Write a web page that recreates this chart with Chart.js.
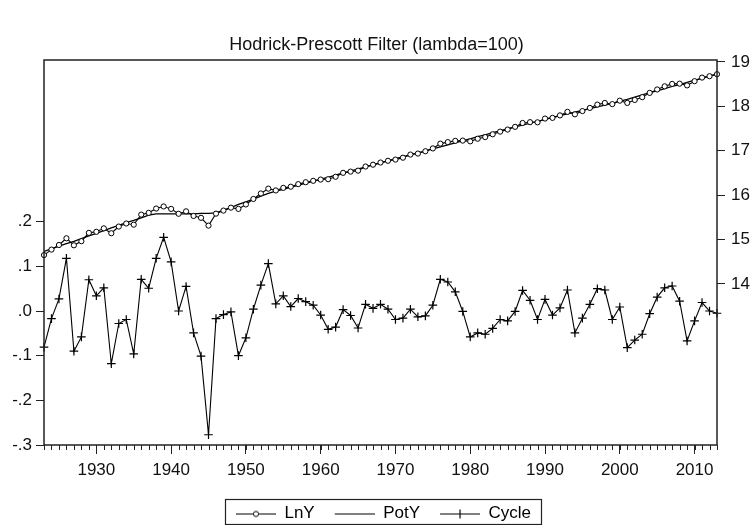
<!DOCTYPE html>
<html>
<head>
<meta charset="utf-8">
<title>Hodrick-Prescott Filter</title>
<script src="https://cdn.jsdelivr.net/npm/chart.js@4.4.1/dist/chart.umd.min.js"></script>
<style>
  html, body { margin: 0; padding: 0; background: #fff; }
  #chart { display: block; }
</style>
</head>
<body>
<canvas id="chart" width="753" height="525"></canvas>
<script>
// years on the x axis
const years = [1923, 1924, 1925, 1926, 1927, 1928, 1929, 1930, 1931, 1932,
  1933, 1934, 1935, 1936, 1937, 1938, 1939, 1940, 1941, 1942,
  1943, 1944, 1945, 1946, 1947, 1948, 1949, 1950, 1951, 1952,
  1953, 1954, 1955, 1956, 1957, 1958, 1959, 1960, 1961, 1962,
  1963, 1964, 1965, 1966, 1967, 1968, 1969, 1970, 1971, 1972,
  1973, 1974, 1975, 1976, 1977, 1978, 1979, 1980, 1981, 1982,
  1983, 1984, 1985, 1986, 1987, 1988, 1989, 1990, 1991, 1992,
  1993, 1994, 1995, 1996, 1997, 1998, 1999, 2000, 2001, 2002,
  2003, 2004, 2005, 2006, 2007, 2008, 2009, 2010, 2011, 2012, 2013];

// right axis series
const lnY = [14.649, 14.773, 14.877, 15.028, 14.870, 14.962, 15.150, 15.174, 15.252, 15.142,
  15.292, 15.361, 15.334, 15.561, 15.601, 15.698, 15.745, 15.690, 15.580, 15.635,
  15.531, 15.489, 15.313, 15.583, 15.652, 15.718, 15.690, 15.790, 15.914, 16.038,
  16.146, 16.106, 16.164, 16.190, 16.248, 16.291, 16.323, 16.351, 16.359, 16.414,
  16.503, 16.530, 16.552, 16.645, 16.686, 16.735, 16.774, 16.801, 16.844, 16.914,
  16.937, 16.989, 17.053, 17.161, 17.195, 17.223, 17.229, 17.212, 17.271, 17.308,
  17.371, 17.431, 17.478, 17.539, 17.626, 17.644, 17.641, 17.726, 17.741, 17.797,
  17.877, 17.821, 17.894, 17.965, 18.040, 18.077, 18.051, 18.129, 18.078, 18.145,
  18.208, 18.304, 18.381, 18.452, 18.506, 18.512, 18.473, 18.568, 18.649, 18.680, 18.725];

const potY = [14.73, 14.79, 14.85, 14.91, 14.96, 15.02, 15.08, 15.14, 15.20, 15.26,
  15.32, 15.38, 15.43, 15.49, 15.55, 15.58, 15.58, 15.58, 15.58, 15.58,
  15.58, 15.59, 15.59, 15.60, 15.66, 15.72, 15.79, 15.85, 15.91, 15.98,
  16.04, 16.09, 16.13, 16.18, 16.22, 16.27, 16.31, 16.36, 16.40, 16.45,
  16.50, 16.54, 16.59, 16.63, 16.68, 16.72, 16.77, 16.82, 16.86, 16.91,
  16.95, 17.00, 17.04, 17.09, 17.13, 17.18, 17.23, 17.27, 17.32, 17.36,
  17.41, 17.45, 17.50, 17.54, 17.58, 17.62, 17.66, 17.70, 17.75, 17.79,
  17.83, 17.87, 17.91, 17.95, 17.99, 18.03, 18.07, 18.12, 18.16, 18.21,
  18.26, 18.31, 18.35, 18.40, 18.45, 18.49, 18.54, 18.59, 18.63, 18.68, 18.73];

// left axis series
const cycle = [-0.081, -0.017, 0.027, 0.118, -0.090, -0.058, 0.070, 0.034, 0.052, -0.118,
  -0.028, -0.019, -0.096, 0.071, 0.051, 0.118, 0.165, 0.110, 0.000, 0.055,
  -0.049, -0.101, -0.277, -0.017, -0.008, -0.002, -0.100, -0.060, 0.004, 0.058,
  0.106, 0.016, 0.034, 0.010, 0.028, 0.021, 0.013, -0.009, -0.041, -0.036,
  0.003, -0.010, -0.038, 0.015, 0.006, 0.015, 0.004, -0.019, -0.016, 0.004,
  -0.013, -0.011, 0.013, 0.071, 0.065, 0.043, -0.001, -0.058, -0.049, -0.052,
  -0.039, -0.019, -0.022, -0.001, 0.046, 0.024, -0.019, 0.026, -0.009, 0.007,
  0.047, -0.049, -0.016, 0.015, 0.050, 0.047, -0.019, 0.009, -0.082, -0.065,
  -0.052, -0.006, 0.031, 0.052, 0.056, 0.022, -0.067, -0.022, 0.019, 0.000, -0.005];

// tick labels
const yearTicks = [1930, 1940, 1950, 1960, 1970, 1980, 1990, 2000, 2010];
const cycleTicks = [-0.3, -0.2, -0.1, 0, 0.1, 0.2];
const levelTicks = [14, 15, 16, 17, 18, 19];

const FONT = '"Liberation Sans", Arial, sans-serif';
Chart.defaults.font.family = FONT;
Chart.defaults.color = '#111';

function pairs(vals) {
  return years.map((y, i) => ({ x: y, y: vals[i] }));
}

function fmtCycle(v) {
  const n = Math.round(Math.abs(v) * 10);
  return (v < -0.0001 ? '-' : '') + '.' + n;
}

// legend symbols: a short line with the series marker
function legendSymbol(kind) {
  const c = document.createElement('canvas');
  c.width = 54; c.height = 12;
  const g = c.getContext('2d');
  g.strokeStyle = '#000';
  g.lineWidth = 1.2;
  g.beginPath(); g.moveTo(14, 6.5); g.lineTo(54, 6.5); g.stroke();
  if (kind === 'circle') {
    g.fillStyle = '#fff';
    g.lineWidth = 1;
    g.beginPath(); g.arc(34, 6.5, 2.6, 0, Math.PI * 2); g.fill(); g.stroke();
  } else if (kind === 'cross') {
    g.beginPath(); g.moveTo(34, 2); g.lineTo(34, 11); g.stroke();
  }
  return c;
}
const symbols = [legendSymbol('circle'), legendSymbol('none'), legendSymbol('cross')];

const framePlugin = {
  id: 'frame',
  afterDraw(chart) {
    const { ctx, chartArea: a, scales } = chart;
    ctx.save();
    ctx.strokeStyle = '#222';
    ctx.lineWidth = 1.5;
    ctx.strokeRect(a.left, a.top, a.right - a.left, a.bottom - a.top);
    // yearly minor ticks
    ctx.lineWidth = 1;
    ctx.beginPath();
    years.forEach(y => {
      const x = Math.round(scales.x.getPixelForValue(y)) + 0.5;
      ctx.moveTo(x, a.bottom);
      ctx.lineTo(x, a.bottom + 5);
    });
    ctx.stroke();
    // box around the legend
    const hb = chart.legend.legendHitBoxes;
    if (hb && hb.length) {
      const l = Math.round(hb[0].left + 3) + 0.5;
      const last = hb[hb.length - 1];
      const r = Math.round(last.left + last.width + 10) + 0.5;
      const t = Math.round(chart.legend.top) + 0.5;
      ctx.lineWidth = 1.2;
      ctx.strokeRect(l, t, r - l, chart.height - 0.5 - t);
    }
    ctx.restore();
  }
};

new Chart(document.getElementById('chart'), {
  type: 'line',
  data: {
    datasets: [
      {
        label: 'LnY', data: pairs(lnY), yAxisID: 'yR', order: 0,
        borderColor: '#000', borderWidth: 1.1, tension: 0,
        pointStyle: 'circle', pointRadius: 2.6, pointBorderWidth: 1,
        pointBackgroundColor: '#fff', pointBorderColor: '#000', clip: 6
      },
      {
        label: 'PotY', data: pairs(potY), yAxisID: 'yR', order: 1,
        borderColor: '#000', borderWidth: 1.3, tension: 0, pointRadius: 0
      },
      {
        label: 'Cycle', data: pairs(cycle), yAxisID: 'yL', order: 2,
        borderColor: '#000', borderWidth: 1.1, tension: 0,
        pointStyle: 'cross', pointRadius: 4.3, pointBorderWidth: 1.2,
        pointBorderColor: '#000', clip: 6
      }
    ]
  },
  options: {
    responsive: false,
    animation: false,
    layout: { padding: { left: 0, right: 0, top: 0, bottom: -7 } },
    plugins: {
      title: {
        display: true,
        text: 'Hodrick-Prescott Filter (lambda=100)',
        color: '#111',
        font: { size: 18, weight: 'normal' },
        padding: { top: 34.2, bottom: 4.2 }
      },
      legend: {
        position: 'bottom',
        labels: {
          usePointStyle: true,
          pointStyleWidth: 54,
          padding: 6,
          color: '#111',
          font: { size: 17 },
          generateLabels: chart => chart.data.datasets.map((ds, i) => ({
            text: ds.label, pointStyle: symbols[i], fillStyle: '#fff',
            strokeStyle: '#000', lineWidth: 1, hidden: false, datasetIndex: i
          }))
        }
      },
      tooltip: { enabled: false }
    },
    scales: {
      x: {
        type: 'linear', position: 'bottom', min: 1923, max: 2013,
        afterBuildTicks: s => { s.ticks = yearTicks.map(v => ({ value: v })); },
        afterFit: s => { s.height = 54; },
        ticks: { callback: v => String(v), font: { size: 17 }, padding: 6, maxRotation: 0, autoSkip: false, color: '#111' },
        grid: { drawOnChartArea: false, tickLength: 9, tickColor: '#222', tickWidth: 1 },
        border: { display: false }
      },
      yL: {
        type: 'linear', position: 'left', min: -0.3, max: 0.562,
        afterBuildTicks: s => { s.ticks = cycleTicks.map(v => ({ value: v })); },
        afterFit: s => { s.width = 44; },
        ticks: { callback: fmtCycle, font: { size: 17 }, padding: 4, color: '#111' },
        grid: { drawOnChartArea: false, tickLength: 8, tickColor: '#222', tickWidth: 1 },
        border: { display: false }
      },
      yR: {
        type: 'linear', position: 'right', min: 10.37, max: 19.045,
        afterBuildTicks: s => { s.ticks = levelTicks.map(v => ({ value: v })); },
        afterFit: s => { s.width = 36; },
        ticks: { callback: v => String(v), font: { size: 17 }, padding: 6, color: '#111' },
        grid: { drawOnChartArea: false, tickLength: 8, tickColor: '#222', tickWidth: 1 },
        border: { display: false }
      }
    }
  },
  plugins: [framePlugin]
});
</script>
</body>
</html>
